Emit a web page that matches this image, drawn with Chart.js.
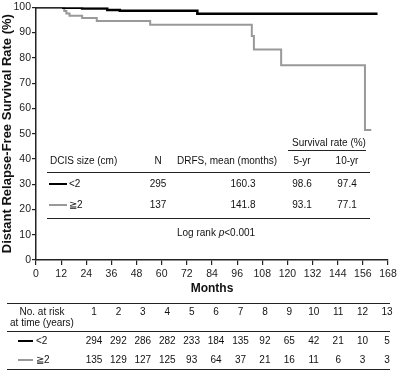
<!DOCTYPE html>
<html>
<head>
<meta charset="utf-8">
<script src="https://cdn.jsdelivr.net/npm/chart.js@4"></script>
<style>
  html, body { margin:0; padding:0; background:#fff; }
  #wrap { position:relative; width:400px; height:374px; font-family:"Liberation Sans", Arial, sans-serif; color:#111; }
  #c { position:absolute; left:0; top:0; }
  .t { position:absolute; white-space:nowrap; font-size:10px; line-height:12px; }
  .c { transform:translate(-50%,-50%); }
  .l { transform:translate(0,-50%); }
  .hr { position:absolute; height:0; border-top:1.5px solid #222; }
  .seg { position:absolute; height:0; }
</style>
</head>
<body>
<div id="wrap">
  <canvas id="c" width="400" height="374"></canvas>
</div>
<script>
// ---- Kaplan-Meier curves (months, survival %) ----
const smallMonths = [0, 13, 22, 34, 40, 77, 163];
const smallRates  = [100, 99.8, 99.5, 98.9, 98.6, 97.4, 97.4];
const largeMonths = [0, 13.5, 14.5, 16, 22, 29, 54.5, 103, 104, 117, 157, 160];
const largeRates  = [100, 98.5, 97.5, 96.7, 95.8, 94.6, 93.1, 88.6, 83.3, 77.1, 51.4, 51.4];

// ---- in-plot summary table ----
const groupLabels = ['<2', '\u22672'];
const groupN      = [295, 137];
const drfsMean    = ['160.3', '141.8'];
const rate5yr     = ['98.6', '93.1'];
const rate10yr    = ['97.4', '77.1'];

// ---- number at risk table ----
const riskYears = [1,2,3,4,5,6,7,8,9,10,11,12,13];
const riskSmall = [294,292,286,282,233,184,135,92,65,42,21,10,5];
const riskLarge = [135,129,127,125,93,64,37,21,16,11,6,3,3];

const BLACK = '#000000';
const GRAY = '#999999';

const toPts = (xs, ys) => xs.map((x, i) => ({x: x, y: ys[i]}));

new Chart(document.getElementById('c'), {
  type: 'line',
  data: {
    datasets: [
      { label: '<2', data: toPts(smallMonths, smallRates), borderColor: BLACK, borderWidth: 2.5, stepped: 'before', pointRadius: 0, fill: false },
      { label: '\u22672', data: toPts(largeMonths, largeRates), borderColor: GRAY, borderWidth: 2, stepped: 'before', pointRadius: 0, fill: false }
    ]
  },
  options: {
    responsive: false,
    animation: false,
    layout: { padding: { top: 6, right: 12, bottom: 78, left: 0 } },
    plugins: { legend: { display: false }, tooltip: { enabled: false } },
    scales: {
      x: {
        type: 'linear', min: 0, max: 168,
        ticks: { stepSize: 12, color: '#222', font: { family: 'Liberation Sans', size: 10.5 }, padding: 3, maxRotation: 0 },
        grid: { drawOnChartArea: false, tickLength: 5, color: '#222', lineWidth: 1.2 },
        border: { color: '#222', width: 1.5 },
        title: { display: true, text: 'Months', color: '#111', font: { family: 'Liberation Sans', size: 12, weight: 'bold' }, padding: 0 },
        afterFit: s => { s.height = 36; }
      },
      y: {
        min: 0, max: 100,
        ticks: { stepSize: 10, color: '#222', font: { family: 'Liberation Sans', size: 10.5 }, padding: 1 },
        grid: { drawOnChartArea: false, tickLength: 4, color: '#222', lineWidth: 1.2 },
        border: { color: '#222', width: 1.5 },
        title: { display: true, text: 'Distant Relapse-Free Survival Rate (%)', color: '#111', font: { family: 'Liberation Sans', size: 13, weight: 'bold' }, padding: 0 },
        afterFit: s => { s.width = 36; }
      }
    }
  }
});

// ---- HTML text overlays ----
const wrap = document.getElementById('wrap');
function txt(s, x, y, cls, extra) {
  const d = document.createElement('div');
  d.className = 't ' + cls;
  d.style.left = x + 'px';
  d.style.top = y + 'px';
  if (extra) Object.assign(d.style, extra);
  d.innerHTML = s;
  wrap.appendChild(d);
  return d;
}
function hr(x1, x2, y) {
  const d = document.createElement('div');
  d.className = 'hr';
  d.style.left = x1 + 'px'; d.style.width = (x2 - x1) + 'px'; d.style.top = y + 'px';
  wrap.appendChild(d);
}
function seg(x1, x2, y, color, w) {
  const d = document.createElement('div');
  d.className = 'seg';
  d.style.left = x1 + 'px'; d.style.width = (x2 - x1) + 'px';
  d.style.top = (y - w / 2) + 'px';
  d.style.borderTop = w + 'px solid ' + color;
  wrap.appendChild(d);
}

// summary table inside the plot
txt('Survival rate (%)', 329, 143, 'c');
hr(288, 366, 150);
txt('DCIS size (cm)', 50, 161, 'l');
txt('N', 158, 161, 'c');
txt('DRFS, mean (months)', 177, 161, 'l');
txt('5-yr', 302, 161, 'c');
txt('10-yr', 347, 161, 'c');
hr(47, 370, 172);
const rowY = [184, 205];
const rowColor = [BLACK, GRAY];
for (let i = 0; i < 2; i++) {
  seg(49, 67, rowY[i], rowColor[i], i === 0 ? 2.5 : 2);
  txt(groupLabels[i], 69, rowY[i], 'l');
  txt(String(groupN[i]), 158, rowY[i], 'c');
  txt(drfsMean[i], 243, rowY[i], 'c');
  txt(rate5yr[i], 302, rowY[i], 'c');
  txt(rate10yr[i], 347, rowY[i], 'c');
}
hr(47, 370, 218);
txt('Log rank <i>p</i>&lt;0.001', 177, 233, 'l');

// number at risk table
hr(7, 390, 303);
txt('No. at risk', 42, 312, 'c');
txt('at time (years)', 42, 323, 'c');
hr(7, 390, 331);
const riskX0 = 94, riskX1 = 387;
riskYears.forEach((yr, i) => {
  const x = riskX0 + (riskX1 - riskX0) * i / (riskYears.length - 1);
  txt(String(yr), x, 312, 'c');
  txt(String(riskSmall[i]), x, 341, 'c');
  txt(String(riskLarge[i]), x, 360, 'c');
});
seg(18, 33, 341, BLACK, 2.5);
txt(groupLabels[0], 36, 341, 'l');
seg(18, 33, 360, GRAY, 2);
txt(groupLabels[1], 36, 360, 'l');
hr(7, 390, 369);
</script>
</body>
</html>
